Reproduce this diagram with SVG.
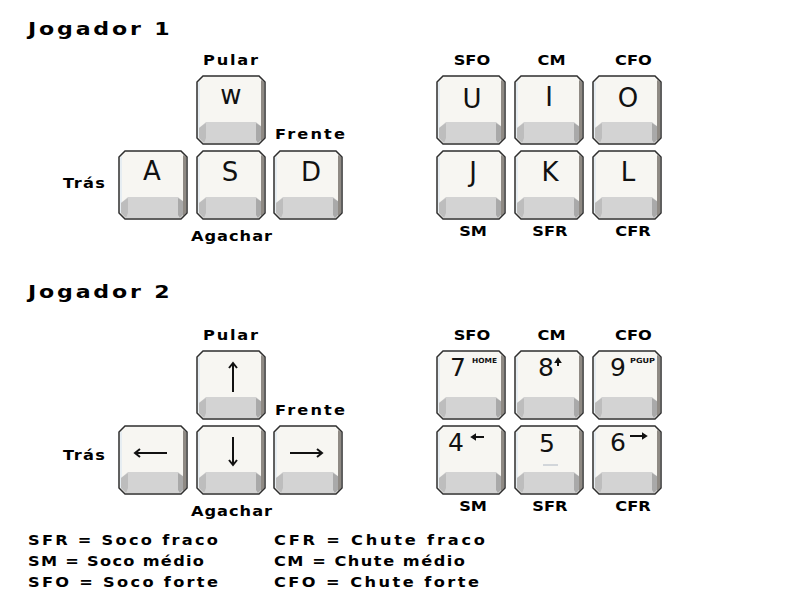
<svg xmlns="http://www.w3.org/2000/svg" xmlns:xlink="http://www.w3.org/1999/xlink" width="800" height="600" viewBox="0 0 800 600">
<style>
.title{font-family:"DejaVu Sans","Liberation Sans",sans-serif;font-weight:bold;font-size:17px;fill:#000}
.lbl{font-family:"DejaVu Sans","Liberation Sans",sans-serif;font-weight:bold;font-size:13.5px;fill:#000}
.mid{text-anchor:middle}
.cap{font-family:"DejaVu Sans","Liberation Sans",sans-serif;font-size:26px;fill:#111;text-anchor:middle}
.num{font-family:"DejaVu Sans","Liberation Sans",sans-serif;font-size:25px;fill:#111}
.tiny{font-family:"DejaVu Sans","Liberation Sans",sans-serif;font-weight:bold;font-size:7px;fill:#111}
.arr{fill:none;stroke:#111;stroke-width:2}
.sarr{fill:#111;stroke:#111;stroke-width:2}
</style>
<defs>
<g id="keycap">
<path d="M6,0 H62 L68,6 V62 L62,68 H6 L0,62 V6 Z" fill="#f7f6f2"/>
<path d="M1,6 L3,5 V61 L1,62 Z" fill="#e6edf2"/>
<path d="M2,52 L9,46 H59 L65,51 V63 L61,67 H7 L2,62 Z" fill="#d3d3d3"/>
<path d="M2,52 L9,47 V62 L7,67 L2,62 Z" fill="#bdbdbd"/>
<path d="M59,47 L65,51 V63 L61,67 L59,64 Z" fill="#a9a9a9"/>
<path d="M64,4 L67,6 V62 L64,65 Z" fill="#8f8a84"/>
<path d="M6,0 H62 L68,6 V62 L62,68 H6 L0,62 V6 Z" fill="none" stroke="#2e2e2e" stroke-width="1.5"/>
</g>
</defs>
<rect width="800" height="600" fill="#fff"/>

<g id="titles" transform="scale(1.3,1)">
<text class="title" x="21.5" y="35" textLength="109" lengthAdjust="spacing">Jogador 1</text>
<text class="title" x="21.5" y="298" textLength="109" lengthAdjust="spacing">Jogador 2</text>
</g>

<!-- Player 1 movement -->
<g id="p1-w" transform="translate(197,76)"><use xlink:href="#keycap"/><text class="cap" x="34" y="28">w</text></g>
<g id="p1-a" transform="translate(119,151)"><use xlink:href="#keycap"/><text class="cap" x="33" y="29">A</text></g>
<g id="p1-s" transform="translate(197,151)"><use xlink:href="#keycap"/><text class="cap" x="33" y="30">S</text></g>
<g id="p1-d" transform="translate(274,151)"><use xlink:href="#keycap"/><text class="cap" x="37" y="30">D</text></g>

<!-- Player 1 attacks -->
<g id="p1-u" transform="translate(437,76)"><use xlink:href="#keycap"/><text class="cap" x="35" y="32">U</text></g>
<g id="p1-i" transform="translate(515,76)"><use xlink:href="#keycap"/><text class="cap" x="34" y="30">I</text></g>
<g id="p1-o" transform="translate(593,76)"><use xlink:href="#keycap"/><text class="cap" x="35" y="31">O</text></g>
<g id="p1-j" transform="translate(437,151)"><use xlink:href="#keycap"/><text class="cap" x="36" y="30">J</text></g>
<g id="p1-k" transform="translate(515,151)"><use xlink:href="#keycap"/><text class="cap" x="35" y="30">K</text></g>
<g id="p1-l" transform="translate(593,151)"><use xlink:href="#keycap"/><text class="cap" x="35" y="30">L</text></g>

<g id="p1-labels" transform="scale(1.2,1)">
<text class="lbl" x="169.2" y="65" textLength="45.8" lengthAdjust="spacing">Pular</text>
<text class="lbl" x="229.2" y="139" textLength="58.3" lengthAdjust="spacing">Frente</text>
<text class="lbl" x="52.5" y="188" textLength="35" lengthAdjust="spacing">Trás</text>
<text class="lbl" x="159.2" y="241" textLength="67.5" lengthAdjust="spacing">Agachar</text>
<text class="lbl mid" x="393.3" y="65">SFO</text>
<text class="lbl mid" x="459.6" y="65">CM</text>
<text class="lbl mid" x="527.9" y="65">CFO</text>
<text class="lbl mid" x="394.2" y="236">SM</text>
<text class="lbl mid" x="458.3" y="236">SFR</text>
<text class="lbl mid" x="527.5" y="236">CFR</text>
</g>

<!-- Player 2 movement -->
<g id="p2-up" transform="translate(197,351)"><use xlink:href="#keycap"/><path class="arr" d="M36,12 V41 M32,17 L36,12 L40,17"/></g>
<g id="p2-left" transform="translate(119,426)"><use xlink:href="#keycap"/><path class="arr" d="M16,27 H48 M21,23 L16,27 L21,31"/></g>
<g id="p2-down" transform="translate(197,426)"><use xlink:href="#keycap"/><path class="arr" d="M36,11 V39 M32,34 L36,39 L40,34"/></g>
<g id="p2-right" transform="translate(274,426)"><use xlink:href="#keycap"/><path class="arr" d="M16,27 H48 M43,23 L48,27 L43,31"/></g>

<!-- Player 2 attacks (numpad) -->
<g id="p2-7" transform="translate(437,351)"><use xlink:href="#keycap"/><text class="num" x="13" y="25">7</text><text class="tiny" x="35" y="12" textLength="25" lengthAdjust="spacingAndGlyphs">HOME</text></g>
<g id="p2-8" transform="translate(515,351)"><use xlink:href="#keycap"/><text class="num" x="23" y="25">8</text><path class="sarr" d="M43,9 V15 M41,11 L43,8 L45,11 Z"/></g>
<g id="p2-9" transform="translate(593,351)"><use xlink:href="#keycap"/><text class="num" x="17" y="25">9</text><text class="tiny" x="37" y="12" textLength="25" lengthAdjust="spacingAndGlyphs">PGUP</text></g>
<g id="p2-4" transform="translate(437,426)"><use xlink:href="#keycap"/><text class="num" x="11" y="25">4</text><path class="sarr" d="M37,11 H47 M35,11 L38,9 L38,13 Z"/></g>
<g id="p2-5" transform="translate(515,426)"><use xlink:href="#keycap"/><text class="num" x="24" y="26">5</text><path d="M28,39 H43" stroke="#d2d6da" stroke-width="2"/></g>
<g id="p2-6" transform="translate(593,426)"><use xlink:href="#keycap"/><text class="num" x="17" y="25">6</text><path class="sarr" d="M37,10 H50 M53,10 L50,8 L50,12 Z"/></g>

<g id="p2-labels" transform="scale(1.2,1)">
<text class="lbl" x="169.2" y="340" textLength="45.8" lengthAdjust="spacing">Pular</text>
<text class="lbl" x="229.2" y="415" textLength="58.3" lengthAdjust="spacing">Frente</text>
<text class="lbl" x="52.5" y="460" textLength="35" lengthAdjust="spacing">Trás</text>
<text class="lbl" x="159.2" y="516" textLength="67.5" lengthAdjust="spacing">Agachar</text>
<text class="lbl mid" x="393.3" y="340">SFO</text>
<text class="lbl mid" x="459.6" y="340">CM</text>
<text class="lbl mid" x="527.9" y="340">CFO</text>
<text class="lbl mid" x="394.2" y="511">SM</text>
<text class="lbl mid" x="458.3" y="511">SFR</text>
<text class="lbl mid" x="527.5" y="511">CFR</text>
</g>

<g id="legend" transform="scale(1.2,1)">
<text class="lbl" x="23.3" y="545" textLength="158.3" lengthAdjust="spacing">SFR = Soco fraco</text>
<text class="lbl" x="23.3" y="566" textLength="146.7" lengthAdjust="spacing">SM = Soco médio</text>
<text class="lbl" x="23.3" y="587" textLength="158.3" lengthAdjust="spacing">SFO = Soco forte</text>
<text class="lbl" x="228.3" y="545" textLength="175.8" lengthAdjust="spacing">CFR = Chute fraco</text>
<text class="lbl" x="228.3" y="566" textLength="159.2" lengthAdjust="spacing">CM = Chute médio</text>
<text class="lbl" x="228.3" y="587" textLength="170.8" lengthAdjust="spacing">CFO = Chute forte</text>
</g>
</svg>
